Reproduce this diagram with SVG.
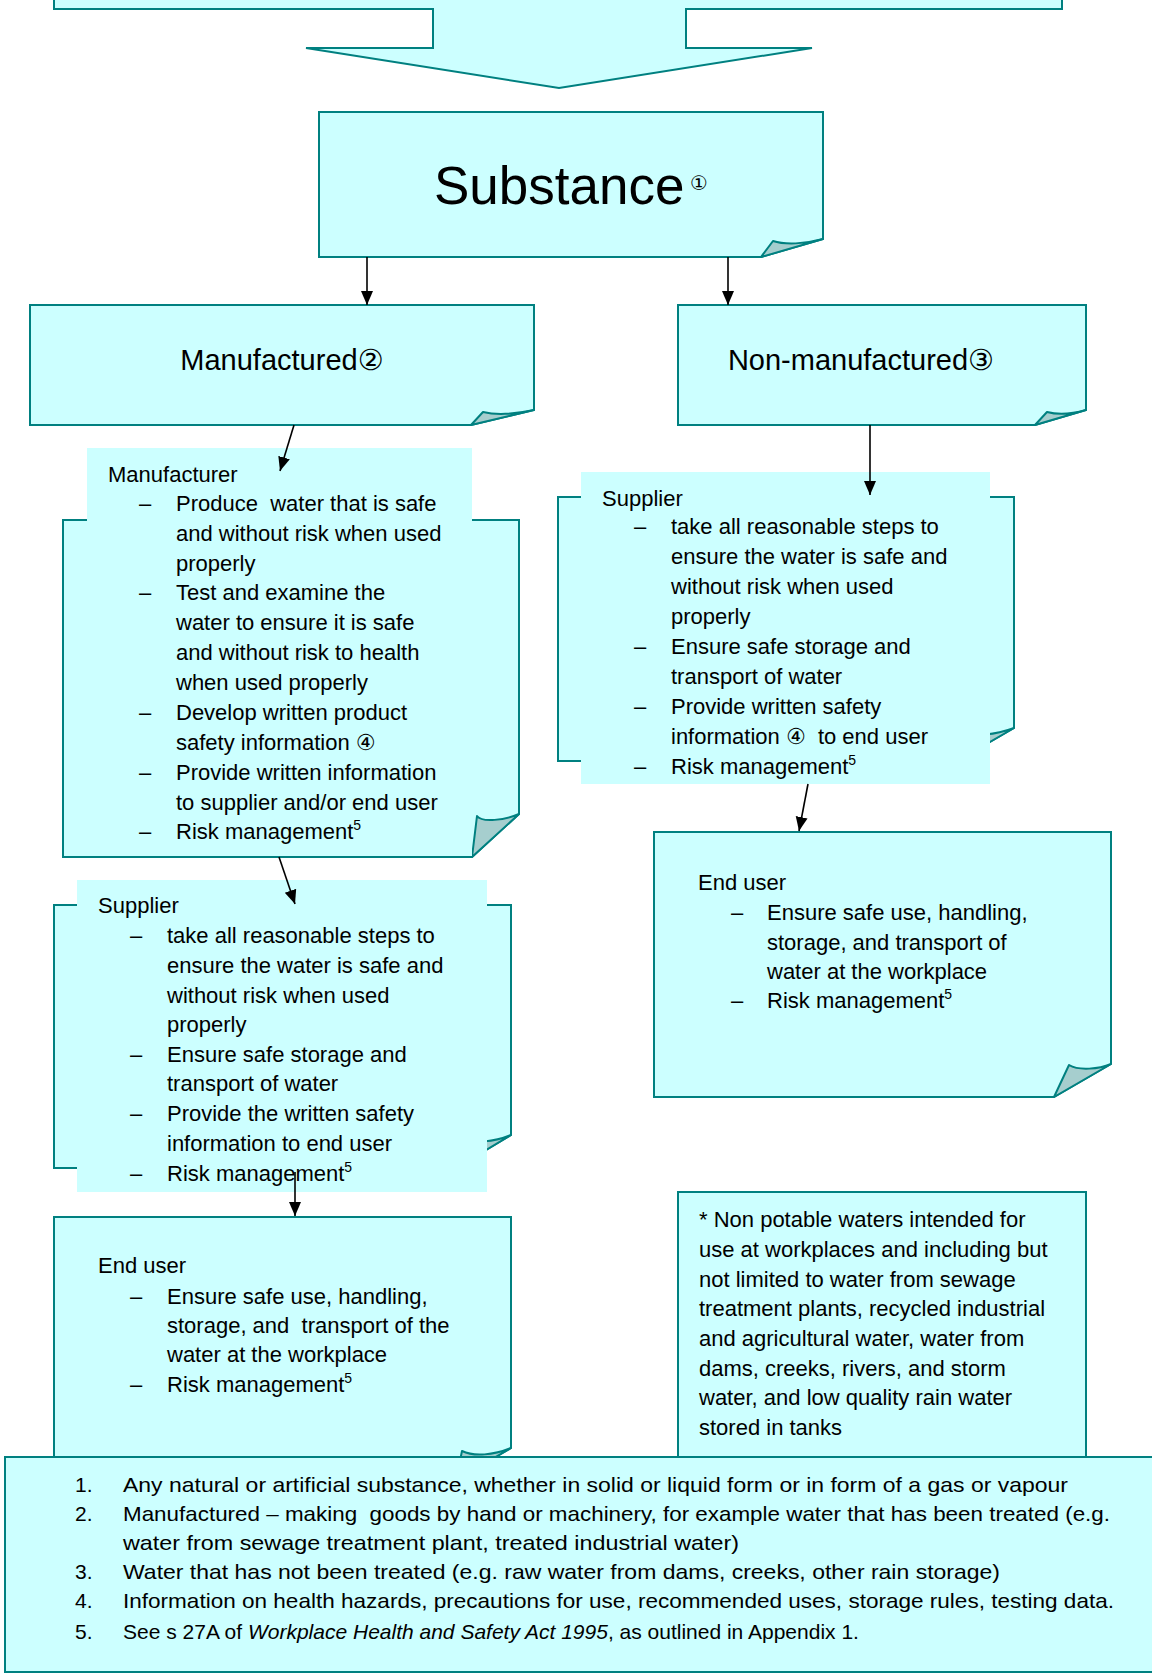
<svg xmlns="http://www.w3.org/2000/svg" width="1152" height="1674" viewBox="0 0 1152 1674">
<style>
.box{fill:#ccffff;stroke:#008080;stroke-width:2}
.bg{fill:#ccffff;stroke:none}
.fold{fill:#a6cece;stroke:#008080;stroke-width:2;stroke-linejoin:round}
.t{font-family:"Liberation Sans",Arial,"DejaVu Sans",sans-serif;font-size:22px;fill:#000;white-space:pre}
.f{font-family:"Liberation Sans",Arial,"DejaVu Sans",sans-serif;font-size:21px;fill:#000;white-space:pre}
.title{font-family:"Liberation Sans",Arial,"DejaVu Sans",sans-serif;fill:#000}
.sup{font-size:14px}
.conn{stroke:#000;stroke-width:1.6;fill:none;marker-end:url(#ah)}
</style>
<defs>
<marker id="ah" markerWidth="14" markerHeight="14" viewBox="0 0 14 12" refX="14" refY="6" orient="auto" markerUnits="userSpaceOnUse">
<path d="M0,0 L14,6 L0,12 z" fill="#000"/>
</marker>
</defs>

<g id="top-arrow">
<path class="box" d="M54,-6 V9 H433 V48 H306 L559,88 L812,48 H686 V9 H1062 V-6 Z"/>
</g>

<g id="substance">
<path class="box" d="M319,112 H823 V239 L761,257 H319 Z"/>
<path class="fold" d="M761,257 L773,241 C 785,245 805,244 823,239 Z"/>
<text class="title" x="434" y="204" font-size="53">Substance</text>
<text class="title" x="690" y="190" font-size="20">①</text>
</g>

<g id="manufactured">
<path class="box" d="M30,305 H534 V410 L471,425 H30 Z"/>
<path class="fold" d="M471,425 L483,412 C 495,415 515,414 534,410 Z"/>
<text class="title" x="282" y="370" font-size="29" text-anchor="middle">Manufactured②</text>
</g>

<g id="non-manufactured">
<path class="box" d="M678,305 H1086 V410 L1035,425 H678 Z"/>
<path class="fold" d="M1035,425 L1047,412 C 1058,415 1072,414 1086,410 Z"/>
<text class="title" x="861" y="370" font-size="29" text-anchor="middle">Non-manufactured③</text>
</g>

<g id="manufacturer">
<path class="box" d="M63,520 H519 V814 L472,857 H63 Z"/>
<path class="fold" d="M472,857 L477,816 C 482,823 505,820 519,814 Z"/>
<rect class="bg" x="87" y="448" width="385" height="408"/>
<text class="t" x="108" y="482">Manufacturer</text>
<text class="t" x="139" y="511">–</text>
<text class="t" x="176" y="511">Produce  water that is safe</text>
<text class="t" x="176" y="541">and without risk when used</text>
<text class="t" x="176" y="571">properly</text>
<text class="t" x="139" y="600">–</text>
<text class="t" x="176" y="600">Test and examine the</text>
<text class="t" x="176" y="630">water to ensure it is safe</text>
<text class="t" x="176" y="660">and without risk to health</text>
<text class="t" x="176" y="690">when used properly</text>
<text class="t" x="139" y="720">–</text>
<text class="t" x="176" y="720">Develop written product</text>
<text class="t" x="176" y="750">safety information ④</text>
<text class="t" x="139" y="780">–</text>
<text class="t" x="176" y="780">Provide written information</text>
<text class="t" x="176" y="810">to supplier and/or end user</text>
<text class="t" x="139" y="839">–</text>
<text class="t" x="176" y="839">Risk management<tspan class="sup" dy="-9">5</tspan></text>
</g>

<g id="supplier-right">
<path class="box" d="M558,497 H1014 V728 L957,761 H558 Z"/>
<path class="fold" d="M957,761 L963,731 C 975,737 995,735 1014,728 Z"/>
<rect class="bg" x="581" y="472" width="409" height="312"/>
<text class="t" x="602" y="506">Supplier</text>
<text class="t" x="634" y="534">–</text>
<text class="t" x="671" y="534">take all reasonable steps to</text>
<text class="t" x="671" y="564">ensure the water is safe and</text>
<text class="t" x="671" y="594">without risk when used</text>
<text class="t" x="671" y="624">properly</text>
<text class="t" x="634" y="654">–</text>
<text class="t" x="671" y="654">Ensure safe storage and</text>
<text class="t" x="671" y="684">transport of water</text>
<text class="t" x="634" y="714">–</text>
<text class="t" x="671" y="714">Provide written safety</text>
<text class="t" x="671" y="744">information ④  to end user</text>
<text class="t" x="634" y="774">–</text>
<text class="t" x="671" y="774">Risk management<tspan class="sup" dy="-9">5</tspan></text>
</g>

<g id="supplier-left">
<path class="box" d="M54,905 H511 V1135 L456,1168 H54 Z"/>
<path class="fold" d="M456,1168 L462,1138 C 474,1144 494,1142 511,1135 Z"/>
<rect class="bg" x="77" y="880" width="410" height="312"/>
<text class="t" x="98" y="913">Supplier</text>
<text class="t" x="130" y="943">–</text>
<text class="t" x="167" y="943">take all reasonable steps to</text>
<text class="t" x="167" y="973">ensure the water is safe and</text>
<text class="t" x="167" y="1003">without risk when used</text>
<text class="t" x="167" y="1032">properly</text>
<text class="t" x="130" y="1062">–</text>
<text class="t" x="167" y="1062">Ensure safe storage and</text>
<text class="t" x="167" y="1091">transport of water</text>
<text class="t" x="130" y="1121">–</text>
<text class="t" x="167" y="1121">Provide the written safety</text>
<text class="t" x="167" y="1151">information to end user</text>
<text class="t" x="130" y="1181">–</text>
<text class="t" x="167" y="1181">Risk management<tspan class="sup" dy="-9">5</tspan></text>
</g>

<g id="enduser-right">
<path class="box" d="M654,832 H1111 V1064 L1054,1097 H654 Z"/>
<path class="fold" d="M1054,1097 L1069,1065 C 1079,1071 1099,1069 1111,1064 Z"/>
<text class="t" x="698" y="890">End user</text>
<text class="t" x="731" y="920">–</text>
<text class="t" x="767" y="920">Ensure safe use, handling,</text>
<text class="t" x="767" y="950">storage, and transport of</text>
<text class="t" x="767" y="979">water at the workplace</text>
<text class="t" x="731" y="1008">–</text>
<text class="t" x="767" y="1008">Risk management<tspan class="sup" dy="-9">5</tspan></text>
</g>

<g id="enduser-left">
<path class="box" d="M54,1217 H511 V1448 L456,1480 H54 Z"/>
<path class="fold" d="M456,1480 L462,1451 C 474,1457 494,1455 511,1448 Z"/>
<text class="t" x="98" y="1273">End user</text>
<text class="t" x="130" y="1304">–</text>
<text class="t" x="167" y="1304">Ensure safe use, handling,</text>
<text class="t" x="167" y="1333">storage, and  transport of the</text>
<text class="t" x="167" y="1362">water at the workplace</text>
<text class="t" x="130" y="1392">–</text>
<text class="t" x="167" y="1392">Risk management<tspan class="sup" dy="-9">5</tspan></text>
</g>

<g id="note">
<rect class="box" x="678" y="1192" width="408" height="290"/>
<text class="t" x="699" y="1227">* Non potable waters intended for</text>
<text class="t" x="699" y="1257">use at workplaces and including but</text>
<text class="t" x="699" y="1287">not limited to water from sewage</text>
<text class="t" x="699" y="1316">treatment plants, recycled industrial</text>
<text class="t" x="699" y="1346">and agricultural water, water from</text>
<text class="t" x="699" y="1376">dams, creeks, rivers, and storm</text>
<text class="t" x="699" y="1405">water, and low quality rain water</text>
<text class="t" x="699" y="1435">stored in tanks</text>
</g>

<g id="connectors">
<line class="conn" x1="367" y1="257" x2="367" y2="305"/>
<line class="conn" x1="728" y1="257" x2="728" y2="305"/>
<line class="conn" x1="294" y1="425" x2="280" y2="471"/>
<line class="conn" x1="870" y1="425" x2="870" y2="495"/>
<line class="conn" x1="279" y1="857" x2="295" y2="904"/>
<line class="conn" x1="295" y1="1172" x2="295" y2="1216"/>
<line class="conn" x1="808" y1="784" x2="799" y2="831"/>
</g>

<g id="footnotes">
<rect class="box" x="5" y="1457" width="1160" height="215"/>
<text class="f" x="75" y="1492">1.</text>
<text class="f" x="123" y="1492" textLength="945" lengthAdjust="spacingAndGlyphs">Any natural or artificial substance, whether in solid or liquid form or in form of a gas or vapour</text>
<text class="f" x="75" y="1521">2.</text>
<text class="f" x="123" y="1521" textLength="987" lengthAdjust="spacingAndGlyphs">Manufactured – making  goods by hand or machinery, for example water that has been treated (e.g.</text>
<text class="f" x="123" y="1550" textLength="616" lengthAdjust="spacingAndGlyphs">water from sewage treatment plant, treated industrial water)</text>
<text class="f" x="75" y="1579">3.</text>
<text class="f" x="123" y="1579" textLength="877" lengthAdjust="spacingAndGlyphs">Water that has not been treated (e.g. raw water from dams, creeks, other rain storage)</text>
<text class="f" x="75" y="1608">4.</text>
<text class="f" x="123" y="1608" textLength="991" lengthAdjust="spacingAndGlyphs">Information on health hazards, precautions for use, recommended uses, storage rules, testing data.</text>
<text class="f" x="75" y="1639">5.</text>
<text class="f" x="123" y="1639">See s 27A of <tspan font-style="italic">Workplace Health and Safety Act 1995</tspan>, as outlined in Appendix 1.</text>
</g>
</svg>
